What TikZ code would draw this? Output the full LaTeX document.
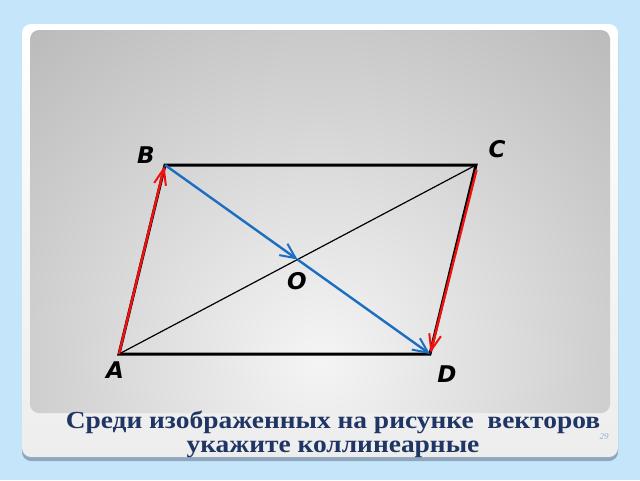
\documentclass[tikz,border=0pt]{standalone}
\usepackage{fontspec}
\setmainfont{Liberation Serif}
\newfontfamily\capfont[FakeStretch=1.12]{Liberation Serif}
\newfontfamily\lblfont{DejaVu Sans}
\usetikzlibrary{arrows.meta,calc}
\definecolor{bgblue}{HTML}{C5E6FA}
\definecolor{navy}{HTML}{1F3564}
\definecolor{vblue}{HTML}{1C6FC0}
\definecolor{vred}{HTML}{F01010}
\definecolor{shadowc}{HTML}{8FA6BC}
\definecolor{numc}{HTML}{9AAFC4}
\begin{document}
\begin{tikzpicture}[x=1pt,y=-1pt,
  side/.style={line width=3pt,black,line cap=round},
  diag/.style={line width=1.2pt,black},
  redvec/.style={line width=2.4pt,vred,-{Straight Barb[length=16pt,width=12pt,line width=2pt]}},
  bluevec/.style={line width=2.4pt,vblue,-{Straight Barb[length=15pt,width=14pt,line width=2pt]}},
  lbl/.style={font=\lblfont\bfseries\itshape\fontsize{23}{23}\selectfont},
  caption/.style={font=\capfont\bfseries\fontsize{24.5}{24}\selectfont,text=navy,align=center}]
\useasboundingbox (0,0) rectangle (640,480);
\fill[bgblue] (0,0) rectangle (640,480);
% card shadow and card
\fill[shadowc,rounded corners=9pt] (22,28) rectangle (618,461);
\shade[rounded corners=9pt,top color=white,bottom color=gray!14] (22,24) rectangle (618,457);
% inner gray panel
\path[rounded corners=9pt,path picture={\shade[inner color=gray!8,outer color=gray!62] (320,360) circle (520pt);}] (30,30) rectangle (610,413);
% points
\coordinate (A) at (119,354);
\coordinate (B) at (165,165);
\coordinate (C) at (476,165);
\coordinate (D) at (430,354);
\coordinate (O) at (297.5,259.5);
% parallelogram
\draw[diag] (A) -- (C);
\draw[side] (A) -- (B) -- (C) -- (D) -- cycle;
% red vectors
\draw[redvec] (119,354) -- (164.5,166);
\draw[redvec] (476.5,170) -- (430.5,353);
% blue vectors
\draw[bluevec] (B) -- (O);
\draw[bluevec] (O) -- (D);
% labels
\node[lbl] (lB) at (146,155) {B};
\node[lbl] (lC) at (497,149) {C};
\node[lbl] (lO) at (297,281) {O};
\node[lbl] (lA) at (115,370) {A};
\node[lbl] (lD) at (447,374) {D};
% caption
\node[caption] (cap) at (333,434) {Среди изображенных на рисунке\ \ векторов\\укажите коллинеарные};
\node[font=\itshape\fontsize{9}{9}\selectfont,text=numc] (num) at (604,437) {29};
\end{tikzpicture}
\end{document}
